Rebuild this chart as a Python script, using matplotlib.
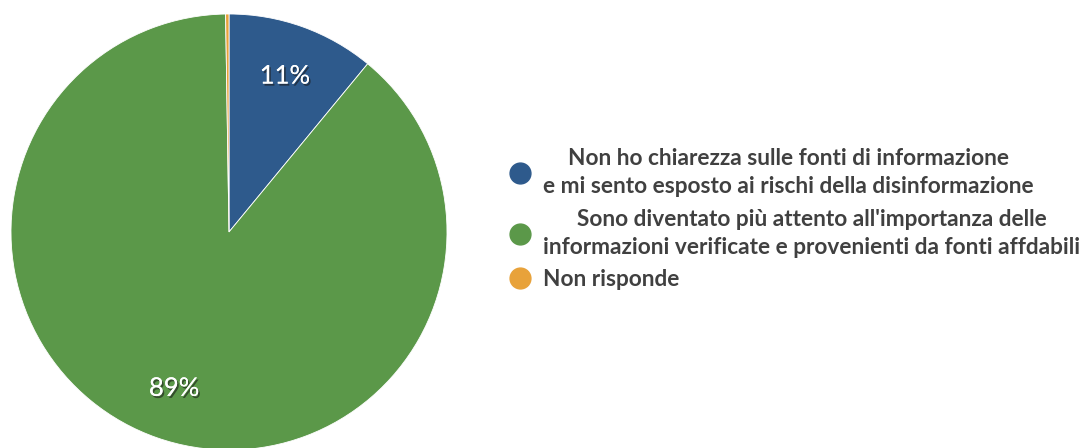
import matplotlib
matplotlib.use("Agg")
import matplotlib.pyplot as plt
import matplotlib.patheffects as pe
from matplotlib.lines import Line2D

# --- dati ---
labels = [
    "Non ho chiarezza sulle fonti di informazione\ne mi sento esposto ai rischi della disinformazione",
    "Sono diventato più attento all'importanza delle\ninformazioni verificate e provenienti da fonti affdabili",
    "Non risponde",
]
values = [11, 89, 0.25]
colors = ["#2E5A8C", "#5B9849", "#E8A23A"]

plt.rcParams["font.family"] = ["Lato", "DejaVu Sans"]

fig = plt.figure(figsize=(10.81, 4.48), dpi=100)
W, H = 1081, 448
cx, cy, r = 229, 232, 218
ax = fig.add_axes([(cx - r) / W, (H - cy - r) / H, 2 * r / W, 2 * r / H])

def fmt(p):
    return f"{p:.0f}%" if p >= 1 else ""

wedges, texts, autotexts = ax.pie(
    values, colors=colors, startangle=90, counterclock=False,
    autopct=fmt, pctdistance=0.76, radius=1,
    wedgeprops=dict(linewidth=0.6, edgecolor="white"),
)
for t in autotexts:
    t.set_color("white")
    t.set_fontsize(18.5)
    t.set_path_effects([pe.withSimplePatchShadow(offset=(1.2, -1.5), shadow_rgbFace="#1a1a1a", alpha=0.6),
                        pe.Normal()])
ax.set_xlim(-1, 1)
ax.set_ylim(-1, 1)
ax.set_aspect("equal")
ax.axis("off")

handles = [Line2D([], [], marker="o", linestyle="", markersize=15, color=c) for c in colors]
leg = fig.legend(handles, labels, loc="center left", bbox_to_anchor=(510 / W, 1 - 219 / H),
                 frameon=False, handletextpad=0.55, labelspacing=0.5, handlelength=0.9,
                 borderaxespad=0, borderpad=0,
                 prop=dict(family=["Lato", "DejaVu Sans"], weight="bold", size=16.3))
for t in leg.get_texts():
    t.set_color("#404040")
    t.set_multialignment("center")
    t.set_linespacing(1.44)

fig.savefig("out.png", dpi=100)
